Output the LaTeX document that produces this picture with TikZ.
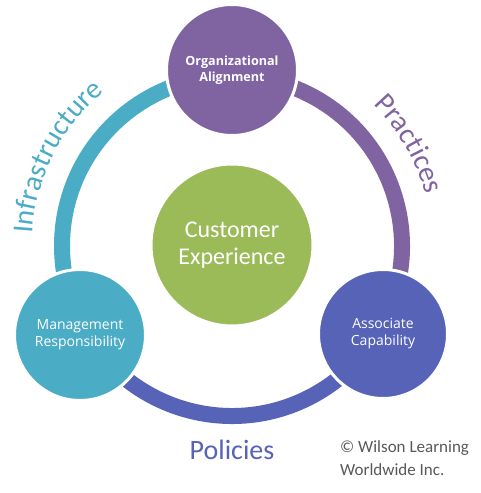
\documentclass[tikz,border=0pt]{standalone}
\usepackage{fontspec}
\setmainfont{Carlito}
\newfontfamily\osans{Open Sans}
\usetikzlibrary{decorations.text}
\definecolor{cpurple}{HTML}{8064A2}
\definecolor{cteal}{HTML}{4BACC6}
\definecolor{cblue}{HTML}{5663B7}
\definecolor{cgreen}{HTML}{9BBB59}
\definecolor{cgray}{HTML}{595959}
\begin{document}
\begin{tikzpicture}[x=1pt,y=1pt,
  ringarc/.style={line width=16pt},
  bubble/.style={circle, draw=white, line width=3pt, text=white, align=center, inner sep=0pt},
  smalltext/.style={font=\osans\fontsize{14}{17}\selectfont},
]
\fill[white] (0,0) rectangle (480,493);
\useasboundingbox (0,0) rectangle (480,493);
\coordinate (ctr) at (232,247);
% ring arcs
\draw[ringarc, cteal] ([shift={(90:170)}]ctr) arc[start angle=90, end angle=210, radius=170];
\draw[ringarc, cblue] ([shift={(210:170)}]ctr) arc[start angle=210, end angle=330, radius=170];
\draw[ringarc, cpurple] ([shift={(330:170)}]ctr) arc[start angle=330, end angle=450, radius=170];
% circles
\node[bubble, fill=cpurple, minimum size=131pt, font=\osans\bfseries\fontsize{12.6}{16.5}\selectfont] (org) at (232,423) {Organizational\\Alignment};
\node[bubble, fill=cteal, minimum size=131pt, smalltext] (mgmt) at (80,158) {Management\\Responsibility};
\node[bubble, fill=cblue, minimum size=129pt, smalltext] (assoc) at (383,159) {Associate\\Capability};
\node[bubble, fill=cgreen, minimum size=162pt, font=\fontsize{24}{27}\selectfont] (cust) at (232,248) {Customer\\Experience};
% curved labels
\path[decorate, decoration={text along path, text align=center,
  text={|\fontsize{29}{29}\selectfont\color{cteal}|Infrastructure}}]
  ([shift={(193:200)}]ctr) arc[start angle=193, end angle=113, radius=200];
\path[decorate, decoration={text along path, text align=center,
  text={|\fontsize{29}{29}\selectfont\color{cpurple}|Practices}}]
  ([shift={(70:200)}]ctr) arc[start angle=70, end angle=-10, radius=200];
\node[anchor=base, font=\fontsize{28}{28}\selectfont, text=cblue, inner sep=0pt] (pol) at (232,33) {Policies};
\node[anchor=base west, font=\fontsize{17}{17}\selectfont, text=cgray, inner sep=0pt] (cp1) at (340,40) {© Wilson Learning};
\node[anchor=base west, font=\fontsize{17}{17}\selectfont, text=cgray, inner sep=0pt] (cp2) at (340,17) {Worldwide Inc.};
\end{tikzpicture}
\end{document}
